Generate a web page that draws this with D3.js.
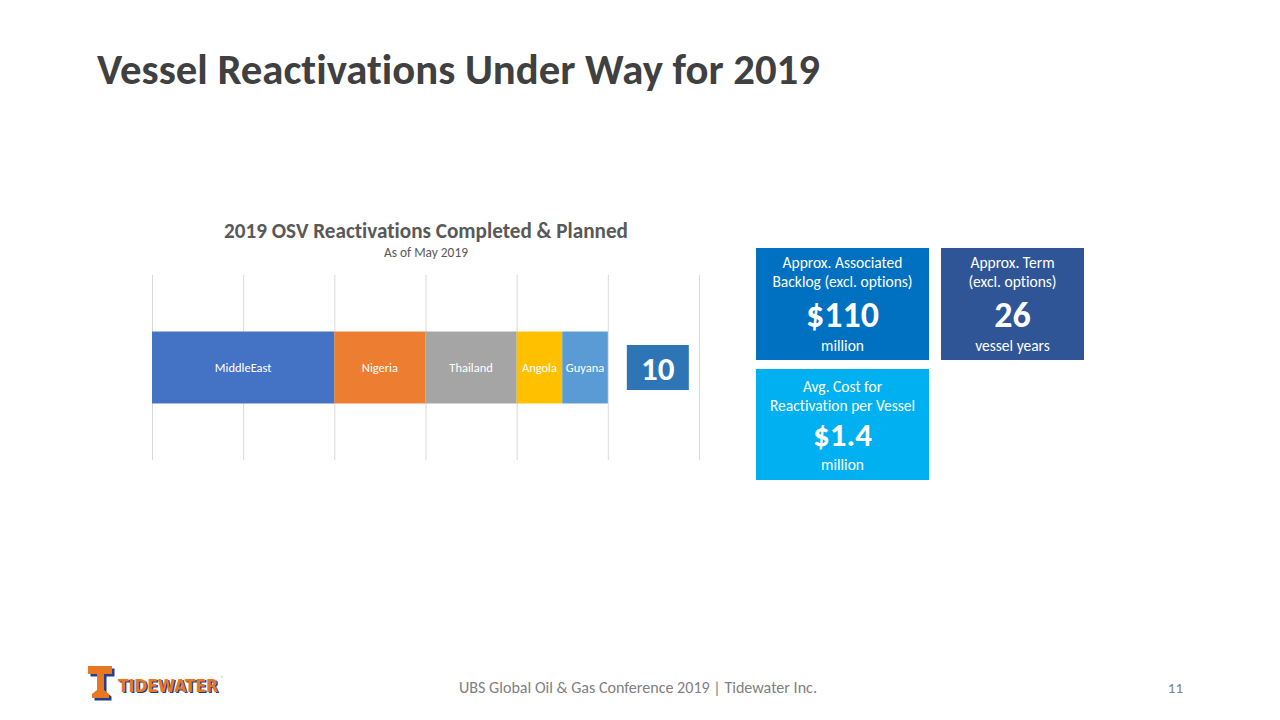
<!DOCTYPE html>
<html lang="en">
<head>
<meta charset="UTF-8">
<title>Vessel Reactivations Under Way for 2019</title>
<script src="https://cdnjs.cloudflare.com/ajax/libs/d3/7.8.5/d3.min.js"></script>
<style>
  html, body { margin: 0; padding: 0; background: #fff; }
  svg { display: block; font-family: Carlito, Lato, 'Open Sans', sans-serif; font-variant-ligatures: none; }
</style>
</head>
<body>
<svg id="slide" width="1280" height="720"></svg>
<script>
// chart data
const regions = ["Middle East", "Nigeria", "Thailand", "Angola", "Guyana"];
const vessels = [4, 2, 2, 1, 1];
const regionColors = ["#4472c4", "#ed7d31", "#a5a5a5", "#ffc000", "#5b9bd5"];
const xTicks = [0, 2, 4, 6, 8, 10, 12];

// callout boxes
const boxHeads = [["Approx. Associated", "Backlog (excl. options)"], ["Approx. Term", "(excl. options)"], ["Avg. Cost for", "Reactivation per Vessel"]];
const boxValues = ["$110", "26", "$1.4"];
const boxUnits = ["million", "vessel years", "million"];
const boxColors = ["#0070c0", "#2f5597", "#00b0f0"];

const svg = d3.select("#slide");

// shrink/grow font so the text spans the wanted width
function fitWidth(sel, w) {
  sel.each(function() {
    const t = d3.select(this);
    const fs = parseFloat(t.attr("font-size"));
    const len = this.getComputedTextLength();
    if (len > 0) t.attr("font-size", (fs * w / len).toFixed(2));
  });
}

// slide title
svg.append("text")
  .attr("x", 97).attr("y", 84)
  .attr("font-size", 38).attr("font-weight", 700)
  .attr("fill", "#404040")
  .text("Vessel Reactivations Under Way for 2019")
  .call(fitWidth, 723);

// ---- stacked bar chart ----
const x = d3.scaleLinear().domain([0, 12]).range([152, 699]);
const y = d3.scaleBand().domain(["2019"]).range([275, 460]).padding(0.44);

const chart = svg.append("g");

chart.append("text")
  .attr("x", 426).attr("y", 238)
  .attr("text-anchor", "middle")
  .attr("font-size", 18).attr("font-weight", 700)
  .attr("fill", "#595959")
  .text("2019 OSV Reactivations  Completed  & Planned")
  .call(fitWidth, 404);

chart.append("text")
  .attr("x", 426).attr("y", 257)
  .attr("text-anchor", "middle")
  .attr("font-size", 11)
  .attr("fill", "#595959")
  .text("As of May 2019")
  .call(fitWidth, 84);

// vertical gridlines
chart.append("g")
  .attr("transform", "translate(0,460)")
  .call(d3.axisBottom(x).tickValues(xTicks).tickSize(-185).tickFormat(""))
  .call(g => g.select(".domain").remove())
  .call(g => g.selectAll(".tick line").attr("stroke", "#d9d9d9").attr("stroke-width", 1));

const starts = d3.cumsum([0].concat(vessels)).slice(0, vessels.length);
const segs = regions.map((r, i) => ({ name: r, v: vessels[i], x0: starts[i], color: regionColors[i] }));

chart.selectAll("rect.seg").data(segs).enter().append("rect")
  .attr("class", "seg")
  .attr("x", d => x(d.x0))
  .attr("y", y("2019"))
  .attr("width", d => x(d.x0 + d.v) - x(d.x0))
  .attr("height", y.bandwidth())
  .attr("fill", d => d.color);

chart.selectAll("text.seg").data(segs).enter().append("text")
  .attr("class", "seg")
  .attr("x", d => (x(d.x0) + x(d.x0 + d.v)) / 2)
  .attr("y", y("2019") + y.bandwidth() / 2 + 4)
  .attr("text-anchor", "middle")
  .attr("font-size", 12.5)
  .attr("fill", "#fff")
  .text(d => d.name === "Middle East" ? "MiddleEast" : d.name);

// total label
const total = d3.sum(vessels);
const tx = x(total);
chart.append("rect")
  .attr("x", tx + 19).attr("y", 345)
  .attr("width", 62).attr("height", 45)
  .attr("fill", "#2e75b6");
chart.append("text")
  .attr("x", tx + 50).attr("y", 380)
  .attr("text-anchor", "middle")
  .attr("font-size", 33).attr("font-weight", 700)
  .attr("fill", "#fff")
  .text(total);

// ---- callout boxes ----
// x, y, w, h, head baseline, value baseline, value size, unit baseline
const boxPos = [[756, 248, 173, 112, 20, 79, 36, 103], [941, 248, 143, 112, 20, 79, 36, 103], [756, 369, 173, 111, 23, 77, 33, 101]];
const boxes = svg.selectAll("g.box").data(boxValues).enter().append("g")
  .attr("class", "box")
  .attr("transform", (d, i) => `translate(${boxPos[i][0]},${boxPos[i][1]})`);

boxes.append("rect")
  .attr("width", (d, i) => boxPos[i][2])
  .attr("height", (d, i) => boxPos[i][3])
  .attr("fill", (d, i) => boxColors[i]);

boxes.each(function(d, i) {
  const g = d3.select(this);
  const p = boxPos[i];
  const cx = p[2] / 2;
  boxHeads[i].forEach((line, k) => {
    g.append("text")
      .attr("x", cx).attr("y", p[4] + k * 19)
      .attr("text-anchor", "middle")
      .attr("font-size", 15.5)
      .attr("fill", "#fff")
      .text(line);
  });
  g.append("text")
    .attr("x", cx).attr("y", p[5])
    .attr("text-anchor", "middle")
    .attr("font-size", p[6]).attr("font-weight", 700)
    .attr("fill", "#fff")
    .text(d);
  g.append("text")
    .attr("x", cx).attr("y", p[7])
    .attr("text-anchor", "middle")
    .attr("font-size", 15.5)
    .attr("fill", "#fff")
    .text(boxUnits[i]);
});

// ---- footer ----
svg.append("text")
  .attr("x", 638).attr("y", 693)
  .attr("text-anchor", "middle")
  .attr("font-size", 13)
  .attr("fill", "#808080")
  .text("UBS Global Oil & Gas Conference 2019  |  Tidewater Inc.")
  .call(fitWidth, 358);

svg.append("text")
  .attr("x", 1183).attr("y", 693)
  .attr("text-anchor", "end")
  .attr("font-size", 15)
  .attr("fill", "#808080")
  .text("11");

// logo
const logo = svg.append("g").attr("transform", "translate(88,666)");
// blue shadow of the T
logo.append("path")
  .attr("d", "M0,0 H24 V8 H16 V24 L21,28 V32 H4 V28 L9,24 V8 H0 Z")
  .attr("fill", "#1f3f8f")
  .attr("transform", "translate(2.5,2.5)");
logo.append("path")
  .attr("d", "M0,0 H24 V8 H16 V24 L21,28 V32 H4 V28 L9,24 V8 H0 Z")
  .attr("fill", "#e87722");
logo.append("text")
  .attr("x", 31.5).attr("y", 26.5)
  .attr("font-size", 19).attr("font-weight", 900)
  .attr("fill", "#1f3f8f")
  .attr("font-family", "'DejaVu Sans Condensed', 'Liberation Sans Narrow', sans-serif")
  .text("TIDEWATER")
  .call(fitWidth, 100);
logo.append("text")
  .attr("x", 30).attr("y", 25.5)
  .attr("font-size", 19).attr("font-weight", 900)
  .attr("fill", "#e87722")
  .attr("font-family", "'DejaVu Sans Condensed', 'Liberation Sans Narrow', sans-serif")
  .text("TIDEWATER")
  .call(fitWidth, 100);
logo.append("text")
  .attr("x", 133).attr("y", 14)
  .attr("font-size", 5)
  .attr("fill", "#808080")
  .text("®");
</script>
</body>
</html>
